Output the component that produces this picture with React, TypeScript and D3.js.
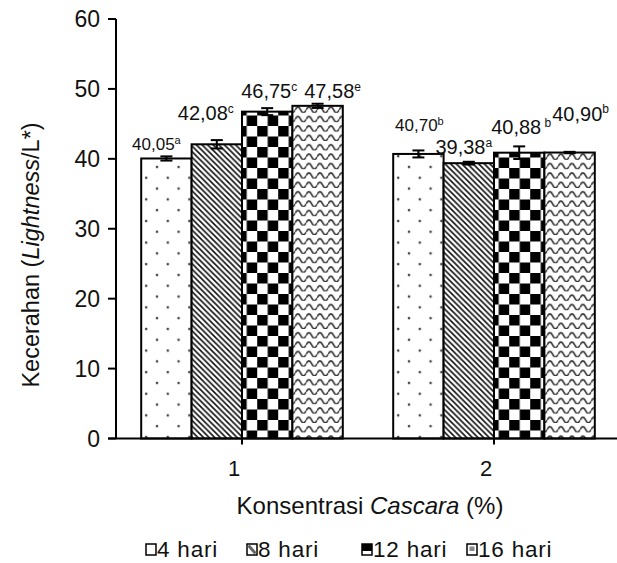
import React from "react";
import * as d3 from "d3";

// Cascara concentration groups (%)
const concentrations = ["1", "2"];
// Storage duration series
const series = ["4 hari", "8 hari", "12 hari", "16 hari"];
// Mean lightness (L*) per concentration, one value per storage duration
const lightness1 = [40.05, 42.08, 46.75, 47.58];
const lightness2 = [40.7, 39.38, 40.88, 40.9];
// Standard deviations for the error bars
const errors1 = [0.3, 0.6, 0.5, 0.3];
const errors2 = [0.5, 0.2, 0.9, 0.1];
// Significance letters printed beside each value
const letters1 = ["a", "c", "c", "e"];
const letters2 = ["b", "a", "b", "b"];
const yTicks = [0, 10, 20, 30, 40, 50, 60];

// Label placement per bar: horizontal nudge, lift above bar top, font size, gap before letter, letter lift
const labelLayout = [
  [
    { dx: -10, lift: 8, size: 17, gap: false, sup: 6 },
    { dx: -11, lift: 24, size: 20, gap: false, sup: 7 },
    { dx: 2, lift: 14, size: 20, gap: false, sup: 7 },
    { dx: 15, lift: 8, size: 20, gap: false, sup: 7 },
  ],
  [
    { dx: 1, lift: 23, size: 17, gap: false, sup: 6 },
    { dx: -5, lift: 9, size: 20, gap: false, sup: 7 },
    { dx: 2, lift: 19, size: 20, gap: true, sup: 7 },
    { dx: 11, lift: 32, size: 20, gap: false, sup: 8 },
  ],
];

const fmt = (v: number) => v.toFixed(2).replace(".", ",");

const W = 617;
const H = 563;
const FONT = "'Liberation Sans', Arial, sans-serif";

export default function App() {
  const x0 = d3
    .scaleBand<string>()
    .domain(concentrations)
    .range([116, 620])
    .paddingInner(0.2)
    .paddingOuter(0.1);
  const x1 = d3.scaleBand<string>().domain(series).range([0, x0.bandwidth()]);
  const y = d3.scaleLinear().domain([0, 60]).range([438.5, 19]);

  const groups = [
    { key: concentrations[0], vals: lightness1, errs: errors1, lets: letters1 },
    { key: concentrations[1], vals: lightness2, errs: errors2, lets: letters2 },
  ];
  const fills = ["url(#pDots)", "url(#pDiag)", "url(#pCheck)", "url(#pWave)"];

  return (
    <svg
      width={W}
      height={H}
      style={{ position: "absolute", left: 0, top: 0, background: "#fff" }}
      fontFamily={FONT}
    >
      <defs>
        <pattern id="pDots" patternUnits="userSpaceOnUse" width={21.6} height={21.6}>
          <rect width={21.6} height={21.6} fill="#fff" />
          <circle cx={5} cy={5} r={1.3} fill="#444" />
          <circle cx={15.8} cy={15.8} r={1.3} fill="#444" />
        </pattern>
        <pattern id="pDiag" patternUnits="userSpaceOnUse" width={5.6} height={5.6}>
          <rect width={5.6} height={5.6} fill="#fff" />
          <path
            d="M-1.4,-1.4 L7,7 M-1.4,4.2 L1.4,7 M4.2,-1.4 L7,1.4"
            stroke="#111"
            strokeWidth={1.6}
          />
        </pattern>
        <pattern id="pCheck" patternUnits="userSpaceOnUse" width={21} height={21} x={242} y={0}>
          <rect width={21} height={21} fill="#fff" />
          <rect x={0} y={0} width={10.5} height={10.5} fill="#000" />
          <rect x={10.5} y={10.5} width={10.5} height={10.5} fill="#000" />
        </pattern>
        <pattern id="pWave" patternUnits="userSpaceOnUse" width={11} height={9.4}>
          <rect width={11} height={9.4} fill="#fff" />
          <path
            d="M0,6.4 Q2.75,0.8 5.5,6.4 T11,6.4"
            stroke="#333"
            strokeWidth={1.6}
            fill="none"
          />
        </pattern>
      </defs>

      {/* bars */}
      {groups.map((g) => (
        <g key={g.key} transform={`translate(${x0(g.key)},0)`}>
          {series.map((s, si) => (
            <rect
              key={s}
              x={x1(s)}
              y={y(g.vals[si])}
              width={x1.bandwidth()}
              height={y(0) - y(g.vals[si])}
              fill={fills[si]}
              stroke="#000"
              strokeWidth={2}
            />
          ))}
        </g>
      ))}

      {/* error bars */}
      {groups.map((g, gi) =>
        series.map((s, si) => {
          const cx = (x0(g.key) as number) + (x1(s) as number) + x1.bandwidth() / 2;
          const top = y(g.vals[si] + g.errs[si]);
          const bot = y(g.vals[si] - g.errs[si]);
          return (
            <g key={`e${gi}${si}`} stroke="#000" strokeWidth={2}>
              <line x1={cx} x2={cx} y1={top} y2={bot} />
              <line x1={cx - 6} x2={cx + 6} y1={top} y2={top} />
              <line x1={cx - 6} x2={cx + 6} y1={bot} y2={bot} />
            </g>
          );
        })
      )}

      {/* value labels */}
      {groups.map((g, gi) =>
        series.map((s, si) => {
          const L = labelLayout[gi][si];
          const cx = (x0(g.key) as number) + (x1(s) as number) + x1.bandwidth() / 2;
          return (
            <text
              key={`l${gi}${si}`}
              x={cx + L.dx}
              y={y(g.vals[si]) - L.lift}
              textAnchor="middle"
              fontSize={L.size}
              fill="#111"
            >
              {fmt(g.vals[si])}
              <tspan fontSize={Math.round(L.size * 0.62)} dy={-L.sup}>
                {L.gap ? " " + g.lets[si] : g.lets[si]}
              </tspan>
            </text>
          );
        })
      )}

      {/* y axis */}
      <line x1={116} x2={116} y1={y(60)} y2={y(0)} stroke="#000" strokeWidth={2} />
      {yTicks.map((t) => (
        <g key={t}>
          <line x1={108} x2={116} y1={y(t)} y2={y(t)} stroke="#000" strokeWidth={2} />
          <text
            x={100}
            y={y(t)}
            dy="0.36em"
            textAnchor="end"
            fontSize={23}
            fill="#111"
          >
            {t}
          </text>
        </g>
      ))}

      {/* x axis */}
      <line x1={108} x2={617} y1={y(0)} y2={y(0)} stroke="#000" strokeWidth={2} />
      {concentrations.map((c) => {
        const cx = (x0(c) as number) + x0.bandwidth() / 2;
        return (
          <g key={c}>
            <line x1={cx} x2={cx} y1={y(0)} y2={y(0) + 6} stroke="#000" strokeWidth={2} />
            <text x={cx - 8} y={476} textAnchor="middle" fontSize={22} fill="#111">
              {c}
            </text>
          </g>
        );
      })}

      {/* axis titles */}
      <text x={370} y={514} textAnchor="middle" fontSize={24} fill="#111">
        Konsentrasi <tspan fontStyle="italic">Cascara</tspan> (%)
      </text>
      <text
        transform="translate(39,255) rotate(-90)"
        textAnchor="middle"
        fontSize={23.5}
        fill="#111"
      >
        Kecerahan (<tspan fontStyle="italic">Lightness</tspan>/L*)
      </text>

      {/* legend */}
      {series.map((s, si) => {
        const lx = [146, 247, 362, 467][si];
        return (
          <g key={s} transform={`translate(${lx},0)`}>
            <rect x={0} y={544} width={10} height={11} fill="#fff" stroke="#000" strokeWidth={1.5} />
            {si === 1 && <path d="M1.5,1.5 L8.5,9.5" transform="translate(0,544)" stroke="#666" strokeWidth={3} />}
            {si === 2 && <rect x={0} y={544} width={10} height={7} fill="#000" />}
            {si === 3 && <rect x={2.5} y={546.5} width={5} height={4.5} fill="#888" />}
            <text x={11} y={557} fontSize={22.5} letterSpacing={0.8} fill="#111">
              {s}
            </text>
          </g>
        );
      })}
    </svg>
  );
}
